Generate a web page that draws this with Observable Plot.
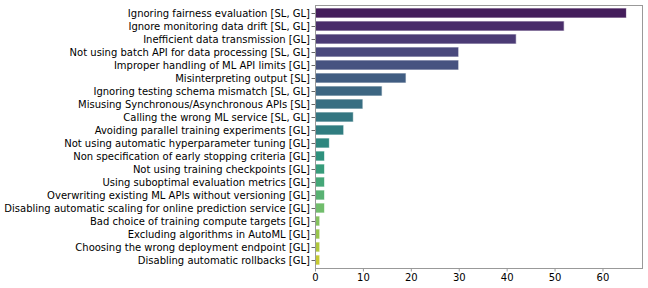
<!DOCTYPE html>
<html>
<head>
<meta charset="utf-8">
<script src="https://cdn.jsdelivr.net/npm/d3@7"></script>
<script src="https://cdn.jsdelivr.net/npm/@observablehq/plot@0.6"></script>
<style>
  html, body { margin: 0; padding: 0; background: #fff; }
  #chart svg { display: block; }
</style>
</head>
<body>
<div id="chart"></div>
<script>
const categories = [
  "Ignoring fairness evaluation [SL, GL]",
  "Ignore monitoring data drift [SL, GL]",
  "Inefficient data transmission [GL]",
  "Not using batch API for data processing [SL, GL]",
  "Improper handling of ML API limits [GL]",
  "Misinterpreting output [SL]",
  "Ignoring testing schema mismatch [SL, GL]",
  "Misusing Synchronous/Asynchronous APIs [SL]",
  "Calling the wrong ML service [SL, GL]",
  "Avoiding parallel training experiments [GL]",
  "Not using automatic hyperparameter tuning [GL]",
  "Non specification of early stopping criteria [GL]",
  "Not using training checkpoints [GL]",
  "Using suboptimal evaluation metrics [GL]",
  "Overwriting existing ML APIs without versioning [GL]",
  "Disabling automatic scaling for online prediction service [GL]",
  "Bad choice of training compute targets [GL]",
  "Excluding algorithms in AutoML [GL]",
  "Choosing the wrong deployment endpoint [GL]",
  "Disabling automatic rollbacks [GL]"
];
const counts = [65, 52, 42, 30, 30, 19, 14, 10, 8, 6, 3, 2, 2, 2, 2, 2, 1, 1, 1, 1];
const xTicks = [0, 10, 20, 30, 40, 50, 60];

const data = categories.map((c, i) => ({category: c, count: counts[i]}));

// seaborn-like viridis palette (extremes excluded) with 0.75 saturation
const n = categories.length;
const palette = categories.map((_, i) => {
  const c = d3.hsl(d3.interpolateViridis((i + 1) / (n + 1)));
  c.s *= 0.75;
  return c.formatHex();
});

const chart = Plot.plot({
  width: 648,
  height: 288,
  marginLeft: 315,
  marginRight: 6,
  marginTop: 5,
  marginBottom: 20,
  style: {fontFamily: "DejaVu Sans", fontSize: "10px", color: "#000", background: "#fff"},
  x: {domain: [0, 68.25], ticks: xTicks, tickSize: 3.5, tickPadding: 2, label: null},
  y: {domain: categories, paddingInner: 0.2, paddingOuter: 0.1, tickSize: 3.5, tickPadding: 2, label: null},
  color: {type: "ordinal", domain: categories, range: palette},
  marks: [
    Plot.barX(data, {x: "count", y: "category", fill: "category", stroke: "white", strokeOpacity: 0.7, strokeWidth: 1}),
    Plot.frame({stroke: "#999", strokeWidth: 1}),
    Plot.axisX({ticks: xTicks, tickSize: 3.5, tickPadding: 2, stroke: "#999", fill: "#000", label: null}),
    Plot.axisY({tickSize: 3.5, tickPadding: 2, stroke: "#666", fill: "#000", label: null})
  ]
});
document.getElementById("chart").appendChild(chart);
</script>
</body>
</html>
